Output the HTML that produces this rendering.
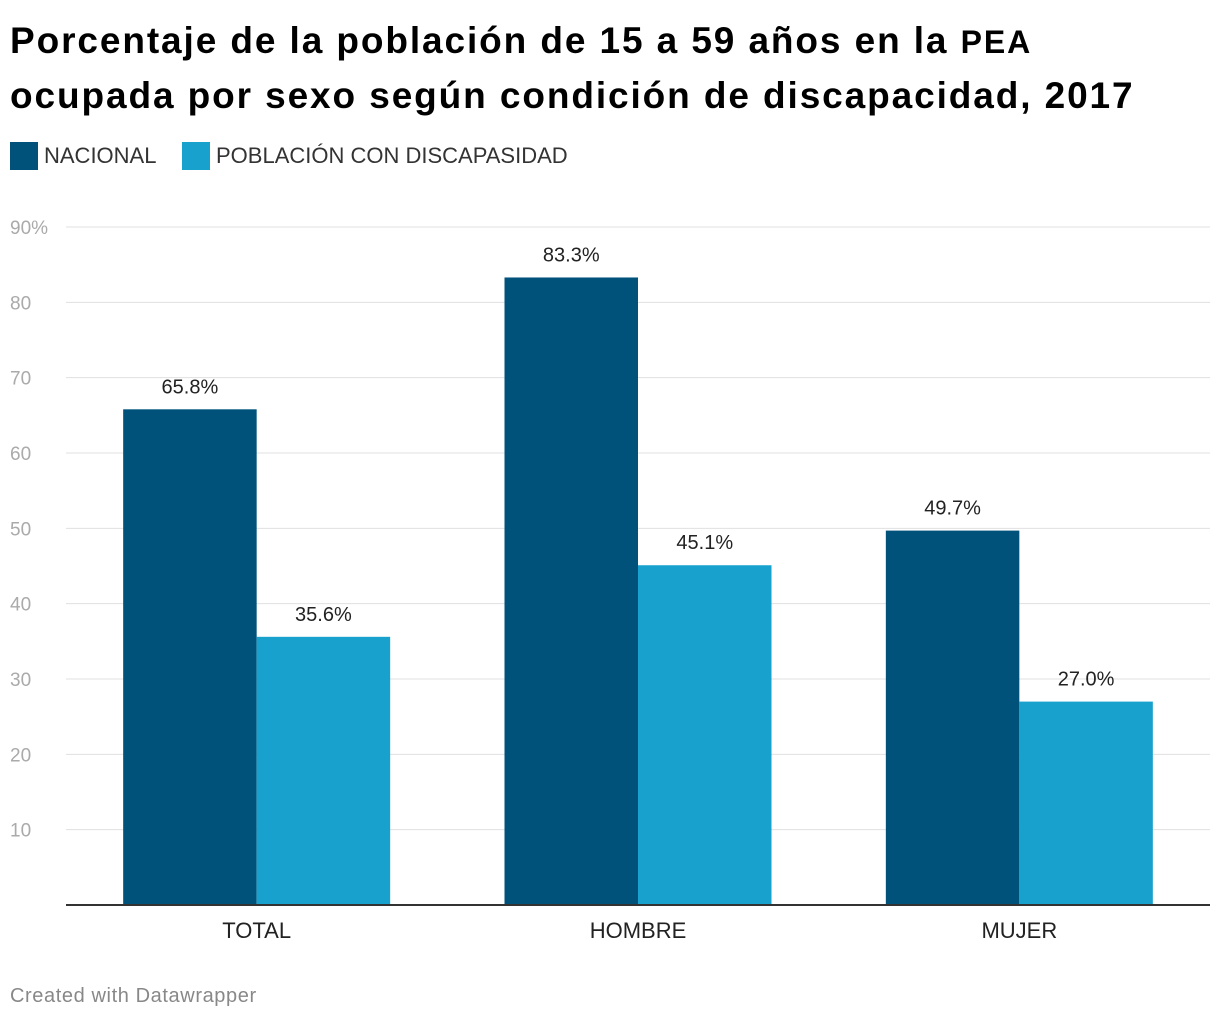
<!DOCTYPE html>
<html><head><meta charset="utf-8">
<style>
body{margin:0;width:1220px;height:1020px;background:#fff;font-family:"Liberation Sans",sans-serif;overflow:hidden}
h1{position:absolute;left:10px;top:14px;margin:0;font-size:37px;line-height:54px;font-weight:bold;color:#000;width:1210px;white-space:nowrap;letter-spacing:1.9px}
.leg{position:absolute;top:142px;font-size:22px;color:#333;display:flex;align-items:center}
.sw{width:28px;height:28px;margin-right:6px}
#foot{position:absolute;left:10px;top:985px;font-size:20px;color:#888;letter-spacing:0.6px}
</style></head><body>
<h1>Porcentaje de la población de 15 a 59 años en la <span style="font-size:32px">PEA</span><br>ocupada por sexo según condición de discapacidad, 2017</h1>
<div class="leg" style="left:10px"><div class="sw" style="background:#01527b"></div>NACIONAL</div>
<div class="leg" style="left:182px"><div class="sw" style="background:#18a1cd"></div>POBLACIÓN CON DISCAPASIDAD</div>
<svg id="c" width="1220" height="1020" style="position:absolute;left:0;top:0"></svg>
<div id="foot">Created with Datawrapper</div>
<script>
const categories=["TOTAL","HOMBRE","MUJER"];
const nacional=[65.8,83.3,49.7];
const discapacidad=[35.6,45.1,27.0];
const yTicks=[10,20,30,40,50,60,70,80,90];
const svg=document.getElementById('c');
const NS='http://www.w3.org/2000/svg';
const x0=66,x1=1210,yBase=905,yTop=227,yMax=90;
const y=v=>yBase-(v/yMax)*(yBase-yTop);
const band=(x1-x0)/categories.length;
function mk(t,a){const e=document.createElementNS(NS,t);for(const k in a)e.setAttribute(k,a[k]);svg.appendChild(e);return e;}
yTicks.forEach(t=>{
  const l=mk('line',{x1:x0,x2:x1,y1:y(t),y2:y(t),stroke:'#e0e0e0','stroke-width':1});
  
  
  const tx=mk('text',{x:10,y:y(t)+7,'font-size':19,fill:'#aaa','font-family':'Liberation Sans'});
  tx.textContent=t===90?'90%':String(t);
  
  
});
const bw=133.5;
categories.forEach((c,i)=>{
  const cx=x0+band*(i+0.5);
  [[nacional[i],'#01527b',cx-bw,'nacional'],[discapacidad[i],'#18a1cd',cx,'discapacidad']].forEach(([v,col,bx,s])=>{
    const r=mk('rect',{x:bx,y:y(v),width:bw,height:yBase-y(v),fill:col});
    
    
    const t=mk('text',{x:bx+bw/2,y:y(v)-16,'font-size':20,fill:'#222','text-anchor':'middle','font-family':'Liberation Sans'});
    t.textContent=v.toFixed(1)+'%';
    
    
  });
  const xl=mk('text',{x:cx,y:938,'font-size':22,fill:'#222','text-anchor':'middle','font-family':'Liberation Sans'});
  xl.textContent=c;
  
  
});
const ax=mk('line',{x1:x0,x2:x1,y1:yBase,y2:yBase,stroke:'#333','stroke-width':2});


</script>
</body></html>
